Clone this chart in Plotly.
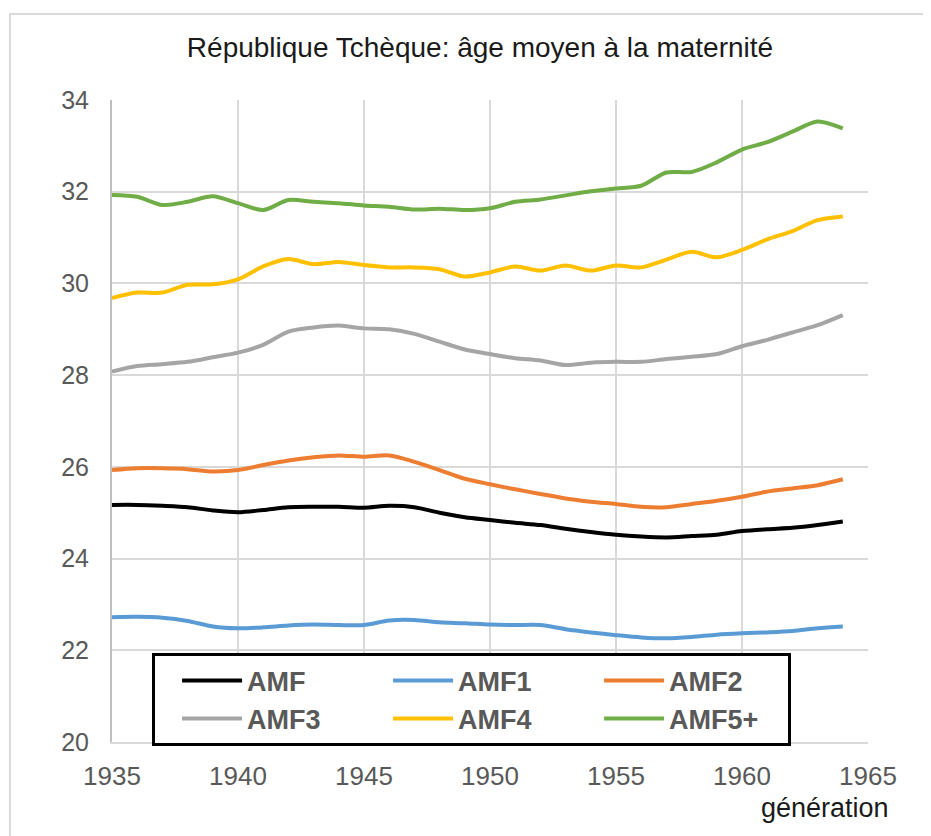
import plotly.graph_objects as go

YEARS = list(range(1935, 1965))

AMF = [25.17, 25.17, 25.15, 25.12, 25.05, 25.01, 25.06, 25.12, 25.13, 25.13,
       25.11, 25.15, 25.12, 25.00, 24.90, 24.84, 24.78, 24.73, 24.65, 24.58,
       24.52, 24.48, 24.46, 24.49, 24.52, 24.60, 24.64, 24.67, 24.73, 24.81]
AMF1 = [22.72, 22.73, 22.71, 22.64, 22.52, 22.48, 22.50, 22.54, 22.56, 22.55,
        22.55, 22.65, 22.66, 22.61, 22.59, 22.56, 22.55, 22.55, 22.46, 22.39,
        22.33, 22.28, 22.26, 22.29, 22.34, 22.37, 22.39, 22.42, 22.48, 22.52]
AMF2 = [25.93, 25.97, 25.97, 25.95, 25.90, 25.93, 26.04, 26.14, 26.21, 26.25,
        26.22, 26.25, 26.11, 25.93, 25.74, 25.62, 25.51, 25.41, 25.31, 25.24,
        25.19, 25.13, 25.12, 25.19, 25.26, 25.35, 25.46, 25.53, 25.60, 25.73]
AMF3 = [28.08, 28.20, 28.24, 28.29, 28.39, 28.49, 28.66, 28.95, 29.04, 29.08,
        29.02, 29.00, 28.90, 28.73, 28.56, 28.46, 28.37, 28.32, 28.22, 28.27,
        28.29, 28.29, 28.35, 28.40, 28.46, 28.63, 28.77, 28.93, 29.09, 29.31]
AMF4 = [29.68, 29.80, 29.80, 29.97, 29.98, 30.09, 30.37, 30.53, 30.42, 30.47,
        30.40, 30.35, 30.35, 30.31, 30.15, 30.24, 30.37, 30.28, 30.39, 30.28,
        30.39, 30.35, 30.52, 30.69, 30.57, 30.73, 30.96, 31.14, 31.38, 31.46]
AMF5 = [31.93, 31.89, 31.71, 31.78, 31.90, 31.75, 31.60, 31.82, 31.78, 31.75,
        31.70, 31.67, 31.61, 31.63, 31.60, 31.64, 31.78, 31.83, 31.92, 32.01,
        32.07, 32.13, 32.42, 32.43, 32.64, 32.92, 33.08, 33.31, 33.53, 33.38]

SERIES = [
    ("AMF", AMF, "#000000"),
    ("AMF1", AMF1, "#5B9BD5"),
    ("AMF2", AMF2, "#ED7D31"),
    ("AMF3", AMF3, "#A5A5A5"),
    ("AMF4", AMF4, "#FFC000"),
    ("AMF5+", AMF5, "#70AD47"),
]

FONT = "Liberation Sans, Arial, sans-serif"

fig = go.Figure()
for name, values, color in SERIES:
    fig.add_trace(go.Scatter(
        x=YEARS, y=values, name=name, mode="lines",
        line=dict(color=color, width=4, shape="spline", smoothing=0.8),
    ))

# page body has an 8px margin, so margins are shifted by that much
fig.update_layout(
    width=931,
    height=836,
    margin=dict(l=104, r=71, t=92, b=102),
    paper_bgcolor="white",
    plot_bgcolor="white",
    font=dict(family=FONT, size=24, color="#595959"),
    title=dict(
        text="République Tchèque: âge moyen à la maternité",
        x=0.507, xanchor="center", y=0.953, yanchor="middle",
        font=dict(family=FONT, size=28, color="#1a1a1a"),
    ),
    legend=dict(
        orientation="h",
        x=0.053, xanchor="left",
        y=0.138, yanchor="top",
        bgcolor="white",
        bordercolor="black",
        borderwidth=3,
        entrywidth=114,
        itemwidth=60,
        indentation=22,
        font=dict(family=FONT, size=27, color="#595959", weight="bold"),
    ),
    xaxis=dict(
        range=[1935, 1965], dtick=5, tick0=1935,
        showgrid=True, gridcolor="#D9D9D9", gridwidth=2,
        showline=True, linecolor="#D9D9D9", linewidth=2,
        zeroline=False, ticks="", ticklabelstandoff=10,
        tickfont=dict(size=26),
    ),
    yaxis=dict(
        range=[20, 34], dtick=2, tick0=20,
        showgrid=True, gridcolor="#D9D9D9", gridwidth=2,
        showline=True, linecolor="#BFBFBF", linewidth=2,
        zeroline=False, ticks="", ticklabelstandoff=16,
        tickfont=dict(size=25),
    ),
    showlegend=True,
)

fig.add_annotation(
    text="génération", xref="paper", yref="paper",
    x=1.031, y=-0.103, xanchor="right", yanchor="middle",
    showarrow=False, font=dict(family=FONT, size=27, color="#1a1a1a"),
)

# outer chart-area border
fig.add_shape(
    type="rect", xref="paper", yref="paper",
    x0=-0.135, x1=3, y0=-1, y1=1.134,
    line=dict(color="#D9D9D9", width=2), layer="below",
)

fig.write_html("out.html")
